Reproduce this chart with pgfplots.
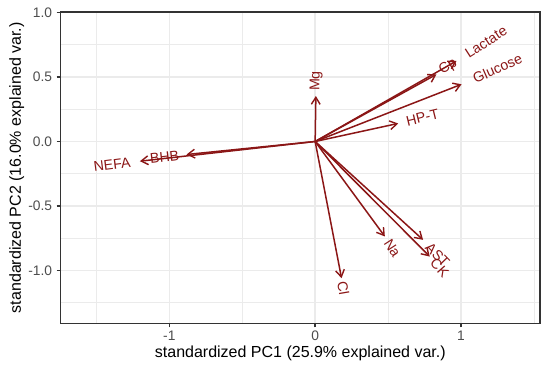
\documentclass[border=0pt]{standalone}
\usepackage{pgfplots}
\pgfplotsset{compat=1.18}
\usepackage{fontspec}
\setmainfont{Liberation Sans}
\usetikzlibrary{arrows.meta}
\definecolor{arrowred}{RGB}{139,22,22}
\definecolor{grey20}{RGB}{51,51,51}
\definecolor{grey30}{RGB}{77,77,77}
\definecolor{grey92}{RGB}{235,235,235}
\newlength\labw
\newcommand\pad[1]{\settowidth\labw{#1}\hspace*{0.25\labw}#1\hspace*{0.25\labw}}
\newcommand\labfont{\fontsize{14.2}{15}\selectfont}
\newcommand\titlefont{\fontsize{16}{18}\selectfont}
\newcommand\varlab[5]{\node[anchor=#4, rotate=#3, inner sep=0pt, text=arrowred, font=\labfont] at (axis cs:#1,#2) {\pad{#5}};}
\tikzset{biarrow/.style={arrowred, line width=1.5pt, -{Straight Barb[length=7pt,width=8.8pt,line width=1.4pt]}}}
\begin{document}
\begin{tikzpicture}
\path[use as bounding box] (-60.7pt,-44.7pt) rectangle (489.3pt,323.3pt);
\begin{axis}[
  at={(0pt,0pt)}, anchor=south west,
  scale only axis, width=479.3pt, height=311.3pt,
  xmin=-1.745, xmax=1.542, ymin=-1.411, ymax=1.005,
  xtick={-1,0,1}, xticklabels={-1,0,1},
  minor xtick={-1.5,-0.5,0.5,1.5},
  ytick={-1,-0.5,0,0.5,1}, yticklabels={-1.0,-0.5,0.0,0.5,1.0},
  minor ytick={-1.25,-0.75,-0.25,0.25,0.75},
  grid=both,
  major grid style={grey92, line width=1.5pt},
  minor grid style={grey92, line width=0.75pt},
  xtick pos=bottom, ytick pos=left,
  tick align=outside, major tick length=4pt, minor tick length=0pt,
  every tick/.style={grey20, line width=1.5pt},
  axis line style={grey20, line width=1.5pt},
  tick label style={font=\fontsize{13.8}{14}\selectfont, text=grey30},
  xticklabel style={yshift=0pt},
  yticklabel style={xshift=-1pt},
  xlabel={standardized PC1 (25.9\% explained var.)},
  ylabel={standardized PC2 (16.0\% explained var.)},
  every axis x label/.style={at={([yshift=-29.7pt]axis description cs:0.5,0)}, anchor=center, font=\titlefont, text=black},
  every axis y label/.style={at={([xshift=-44pt]axis description cs:0,0.5)}, anchor=center, rotate=90, font=\titlefont, text=black},
  clip=false,
]
\addplot[biarrow] coordinates {(0,0) (0.005,0.353)};
\addplot[biarrow] coordinates {(0,0) (0.832,0.521)};
\addplot[biarrow] coordinates {(0,0) (0.969,0.625)};
\addplot[biarrow] coordinates {(0,0) (1.004,0.444)};
\addplot[biarrow] coordinates {(0,0) (0.569,0.140)};
\addplot[biarrow] coordinates {(0,0) (0.181,-1.061)};
\addplot[biarrow] coordinates {(0,0) (0.478,-0.737)};
\addplot[biarrow] coordinates {(0,0) (0.740,-0.763)};
\addplot[biarrow] coordinates {(0,0) (0.786,-0.893)};
\addplot[biarrow] coordinates {(0,0) (-0.882,-0.101)};
\addplot[biarrow] coordinates {(0,0) (-1.202,-0.153)};
\varlab{0.005}{0.353}{89.2}{west}{Mg}
\varlab{0.832}{0.521}{32.1}{west}{Cp}
\varlab{0.969}{0.625}{32.8}{west}{Lactate}
\varlab{1.004}{0.444}{23.9}{west}{Glucose}
\varlab{0.569}{0.140}{13.8}{west}{HP-T}
\varlab{0.181}{-1.061}{-80.3}{west}{Cl}
\varlab{0.478}{-0.737}{-57.0}{west}{Na}
\varlab{0.740}{-0.763}{-45.9}{west}{AST}
\varlab{0.786}{-0.893}{-48.6}{west}{CK}
\varlab{-0.882}{-0.101}{6.5}{east}{BHB}
\varlab{-1.202}{-0.153}{7.3}{east}{NEFA}
\end{axis}
\end{tikzpicture}
\end{document}
